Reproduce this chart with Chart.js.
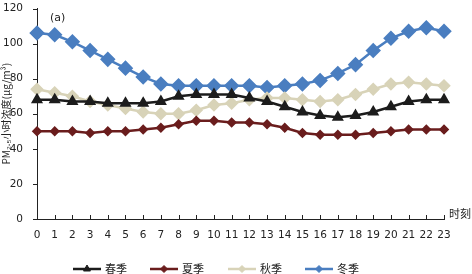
<!DOCTYPE html>
<html>
<head>
<meta charset="utf-8">
<script src="https://cdn.jsdelivr.net/npm/chart.js@4"></script>
<style>
  html, body { margin: 0; padding: 0; background: #fff; }
  #wrap { width: 472px; height: 274px; }
</style>
</head>
<body>
<div id="wrap"><canvas id="pmChart" width="472" height="274"></canvas></div>
<script>
const hours = ["0","1","2","3","4","5","6","7","8","9","10","11","12","13","14","15","16","17","18","19","20","21","22","23"];
const spring = [68,68,67,67,66,66,66,67,70,71,71,71,69,67,64,61,59,58,59,61,64,67,68,68];
const summer = [50,50,50,49,50,50,51,52,54,56,56,55,55,54,52,49,48,48,48,49,50,51,51,51];
const autumn = [74,72,70,67,65,63,61,60,60,62,65,66,68,69,69,68,67,68,71,74,77,78,77,76];
const winter = [106,105,101,96,91,86,81,77,76,76,76,76,76,75,76,77,79,83,88,96,103,107,109,107];
const yTicks = [0,20,40,60,80,100,120];

const cjk = "'Noto Sans CJK SC', sans-serif";
const num = "'DejaVu Sans', sans-serif";

// x ticks point into the plot, y ticks outward; also "(a)", "时刻" and the legend
const decor = {
  id: "decor",
  afterDraw(chart) {
    const c = chart.ctx;
    const x = chart.scales.x, y = chart.scales.y;
    const area = chart.chartArea;
    c.save();
    c.strokeStyle = "#222";
    c.lineWidth = 1;
    c.beginPath();
    hours.forEach((h, i) => {
      const px = Math.round(x.getPixelForValue(i)) + 0.5;
      c.moveTo(px, area.bottom);
      c.lineTo(px, area.bottom - 4);
    });
    yTicks.forEach(v => {
      const py = Math.round(y.getPixelForValue(v)) + 0.5;
      c.moveTo(area.left, py);
      c.lineTo(area.left - 4, py);
    });
    c.stroke();

    c.fillStyle = "#222";
    c.font = "11px " + cjk;
    c.textBaseline = "middle";
    c.textAlign = "left";
    c.fillText("时刻", area.right + 5, area.bottom - 5);
    c.font = "11px " + num;
    c.fillText("(a)", area.left + 13, area.top + 10);

    // legend
    const starts = [73, 150, 228, 305];
    const ly = 269;
    chart.data.datasets.forEach((ds, i) => {
      const x0 = starts[i];
      c.strokeStyle = ds.borderColor;
      c.fillStyle = ds.borderColor;
      c.lineWidth = 2.5;
      c.beginPath();
      c.moveTo(x0, ly);
      c.lineTo(x0 + 28, ly);
      c.stroke();
      c.lineWidth = 1;
      Chart.helpers.drawPoint(c, {
        pointStyle: ds.pointStyle,
        radius: ds.pointStyle === "triangle" ? 4 : 3.5,
        rotation: 0,
        borderWidth: 1
      }, x0 + 14, ly);
      c.fillStyle = "#222";
      c.font = "11px " + cjk;
      c.textAlign = "left";
      c.fillText(ds.label, x0 + 32, ly);
    });
    c.restore();
  }
};

function series(label, data, color, style, r) {
  return {
    label: label,
    data: data,
    borderColor: color,
    backgroundColor: color,
    pointBackgroundColor: color,
    pointBorderColor: color,
    borderWidth: 2.5,
    pointStyle: style,
    pointRadius: r,
    tension: 0
  };
}

new Chart(document.getElementById("pmChart"), {
  type: "line",
  data: {
    labels: hours,
    datasets: [
      series("春季", spring, "#1c1c1c", "triangle", 4.5),
      series("夏季", summer, "#6a1d1d", "rectRot", 3.5),
      series("秋季", autumn, "#d8d3b8", "rectRot", 5),
      series("冬季", winter, "#4a7ec0", "rectRot", 6)
    ]
  },
  options: {
    responsive: false,
    animation: false,
    layout: { padding: { top: 6, right: 28, left: 0, bottom: 0 } },
    plugins: {
      legend: { display: false },
      tooltip: { enabled: false }
    },
    scales: {
      x: {
        offset: false,
        grid: { display: false },
        border: { display: true, color: "#222", width: 1 },
        ticks: {
          color: "#222",
          font: { family: num, size: 10.5 },
          maxRotation: 0,
          autoSkip: false,
          padding: 2
        },
        afterFit(s) {
          s.height = 55;
          s.paddingLeft = 0;
          s.paddingRight = 0;
        }
      },
      y: {
        min: 0,
        max: 120,
        afterBuildTicks(s) { s.ticks = yTicks.map(v => ({ value: v })); },
        grid: { display: false },
        border: { display: true, color: "#222", width: 1 },
        ticks: {
          color: "#222",
          font: { family: num, size: 10.5 },
          padding: 6
        },
        title: {
          display: true,
          text: "PM₂.₅小时浓度(μg/m³)",
          color: "#222",
          font: { family: cjk, size: 10 },
          padding: 0
        },
        afterFit(s) {
          s.width = 37;
          s.paddingTop = 0;
          s.paddingBottom = 0;
        }
      }
    }
  },
  plugins: [decor]
});
</script>
</body>
</html>
